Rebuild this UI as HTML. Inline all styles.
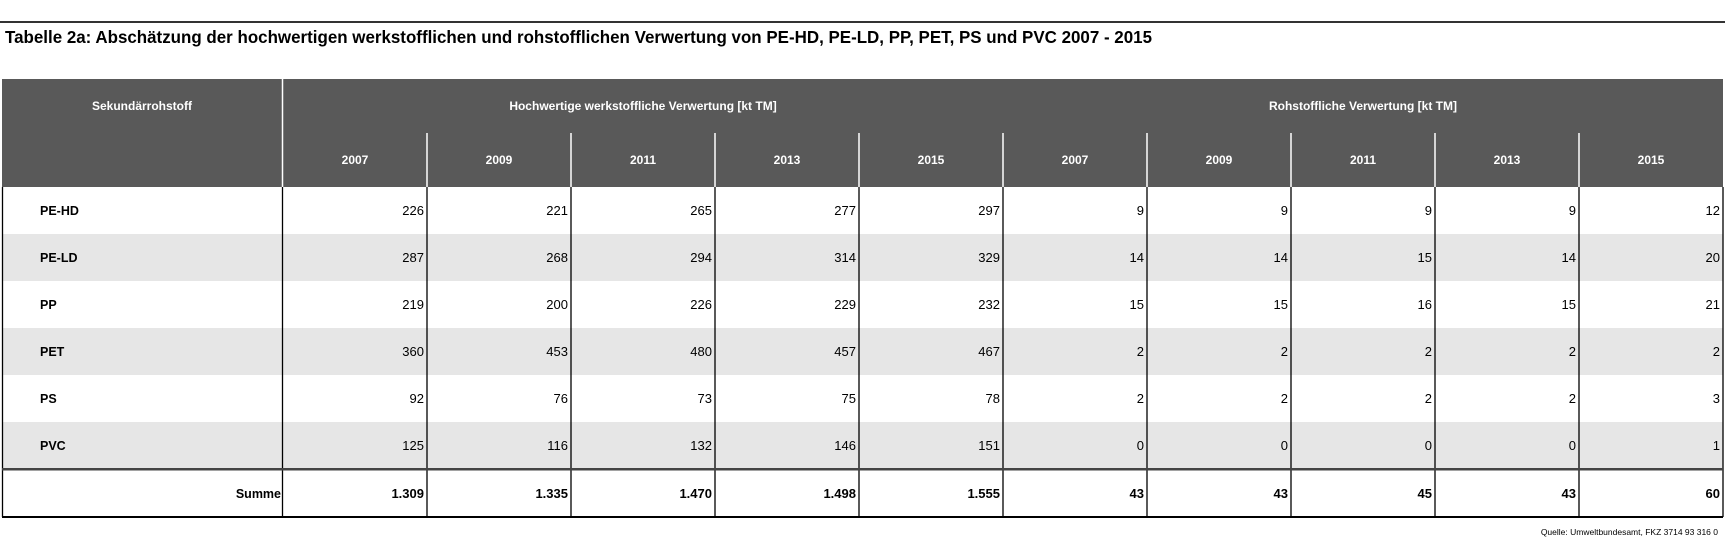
<!DOCTYPE html>
<html><head><meta charset="utf-8"><style>
html,body{margin:0;padding:0;background:#fff;}
svg{display:block;}
text{font-family:"Liberation Sans",Arial,sans-serif;}
.h{fill:#fff;font-weight:bold;font-size:12px;text-anchor:middle;}
.v{fill:#000;font-size:13px;text-anchor:end;}
.l{fill:#000;font-weight:bold;font-size:12.5px;}
.b{font-weight:bold;}
</style></head><body>
<svg width="1725" height="543" viewBox="0 0 1725 543" xmlns="http://www.w3.org/2000/svg">
<rect x="0" y="21" width="1725" height="2" fill="#333"/>
<text x="5" y="43" font-size="17.5" font-weight="bold" textLength="1147" lengthAdjust="spacingAndGlyphs">Tabelle 2a: Abschätzung der hochwertigen werkstofflichen und rohstofflichen Verwertung von PE-HD, PE-LD, PP, PET, PS und PVC 2007 - 2015</text>
<!-- header -->
<rect x="2" y="79" width="1721" height="108" fill="#595959"/>
<line x1="282.5" y1="79" x2="282.5" y2="187" stroke="#fff" stroke-width="1.5"/>
<g stroke="#fff" stroke-width="1.5">
<line x1="427" y1="133" x2="427" y2="187"/><line x1="571" y1="133" x2="571" y2="187"/>
<line x1="715" y1="133" x2="715" y2="187"/><line x1="859" y1="133" x2="859" y2="187"/>
<line x1="1003" y1="133" x2="1003" y2="187"/><line x1="1147" y1="133" x2="1147" y2="187"/>
<line x1="1291" y1="133" x2="1291" y2="187"/><line x1="1435" y1="133" x2="1435" y2="187"/>
<line x1="1579" y1="133" x2="1579" y2="187"/>
</g>
<text class="h" x="142" y="110">Sekundärrohstoff</text>
<text class="h" x="643" y="110">Hochwertige werkstoffliche Verwertung [kt TM]</text>
<text class="h" x="1363" y="110">Rohstoffliche Verwertung [kt TM]</text>
<g class="h">
<text x="355" y="164">2007</text><text x="499" y="164">2009</text><text x="643" y="164">2011</text><text x="787" y="164">2013</text><text x="931" y="164">2015</text>
<text x="1075" y="164">2007</text><text x="1219" y="164">2009</text><text x="1363" y="164">2011</text><text x="1507" y="164">2013</text><text x="1651" y="164">2015</text>
</g>
<!-- stripes -->
<rect x="2" y="234" width="1721" height="47" fill="#e6e6e6"/>
<rect x="2" y="328" width="1721" height="47" fill="#e6e6e6"/>
<rect x="2" y="422" width="1721" height="47" fill="#e6e6e6"/>
<!-- body lines -->
<g stroke="#000" stroke-width="1.3">
<line x1="2.5" y1="187" x2="2.5" y2="517"/><line x1="282.5" y1="187" x2="282.5" y2="517"/>
<line x1="427" y1="187" x2="427" y2="517"/><line x1="571" y1="187" x2="571" y2="517"/>
<line x1="715" y1="187" x2="715" y2="517"/><line x1="859" y1="187" x2="859" y2="517"/>
<line x1="1003" y1="187" x2="1003" y2="517"/><line x1="1147" y1="187" x2="1147" y2="517"/>
<line x1="1291" y1="187" x2="1291" y2="517"/><line x1="1435" y1="187" x2="1435" y2="517"/>
<line x1="1579" y1="187" x2="1579" y2="517"/><line x1="1723" y1="187" x2="1723" y2="517"/>
</g>
<rect x="2" y="468" width="1721" height="2.5" fill="#444"/>
<rect x="2" y="516" width="1721" height="2" fill="#000"/>
<!-- labels -->
<g class="l">
<text x="40" y="215">PE-HD</text><text x="40" y="262">PE-LD</text><text x="40" y="309">PP</text>
<text x="40" y="356">PET</text><text x="40" y="403">PS</text><text x="40" y="450">PVC</text>
<text x="281" y="498" text-anchor="end">Summe</text>
</g>
<g class="v">
<text x="424" y="215">226</text><text x="568" y="215">221</text><text x="712" y="215">265</text><text x="856" y="215">277</text><text x="1000" y="215">297</text><text x="1144" y="215">9</text><text x="1288" y="215">9</text><text x="1432" y="215">9</text><text x="1576" y="215">9</text><text x="1720" y="215">12</text>
<text x="424" y="262">287</text><text x="568" y="262">268</text><text x="712" y="262">294</text><text x="856" y="262">314</text><text x="1000" y="262">329</text><text x="1144" y="262">14</text><text x="1288" y="262">14</text><text x="1432" y="262">15</text><text x="1576" y="262">14</text><text x="1720" y="262">20</text>
<text x="424" y="309">219</text><text x="568" y="309">200</text><text x="712" y="309">226</text><text x="856" y="309">229</text><text x="1000" y="309">232</text><text x="1144" y="309">15</text><text x="1288" y="309">15</text><text x="1432" y="309">16</text><text x="1576" y="309">15</text><text x="1720" y="309">21</text>
<text x="424" y="356">360</text><text x="568" y="356">453</text><text x="712" y="356">480</text><text x="856" y="356">457</text><text x="1000" y="356">467</text><text x="1144" y="356">2</text><text x="1288" y="356">2</text><text x="1432" y="356">2</text><text x="1576" y="356">2</text><text x="1720" y="356">2</text>
<text x="424" y="403">92</text><text x="568" y="403">76</text><text x="712" y="403">73</text><text x="856" y="403">75</text><text x="1000" y="403">78</text><text x="1144" y="403">2</text><text x="1288" y="403">2</text><text x="1432" y="403">2</text><text x="1576" y="403">2</text><text x="1720" y="403">3</text>
<text x="424" y="450">125</text><text x="568" y="450">116</text><text x="712" y="450">132</text><text x="856" y="450">146</text><text x="1000" y="450">151</text><text x="1144" y="450">0</text><text x="1288" y="450">0</text><text x="1432" y="450">0</text><text x="1576" y="450">0</text><text x="1720" y="450">1</text>
</g>
<g class="v b">
<text x="424" y="498">1.309</text><text x="568" y="498">1.335</text><text x="712" y="498">1.470</text><text x="856" y="498">1.498</text><text x="1000" y="498">1.555</text><text x="1144" y="498">43</text><text x="1288" y="498">43</text><text x="1432" y="498">45</text><text x="1576" y="498">43</text><text x="1720" y="498">60</text>
</g>
<text x="1718" y="535" font-size="8.5" text-anchor="end" fill="#000">Quelle: Umweltbundesamt, FKZ  3714 93 316 0</text>
</svg>
</body></html>
